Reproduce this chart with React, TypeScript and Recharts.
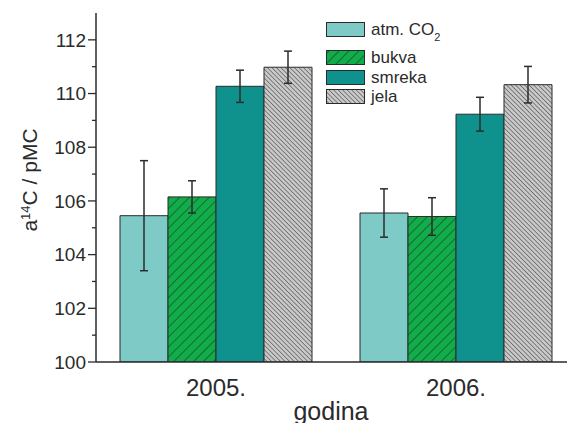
import React from 'react';
import { BarChart, Bar, XAxis, YAxis, ErrorBar } from 'recharts';

const years = ['2005.', '2006.'];
const atmCO2 = [105.45, 105.55];
const atmCO2Err = [2.05, 0.9];
const bukva = [106.15, 105.42];
const bukvaErr = [0.6, 0.7];
const smreka = [110.27, 109.23];
const smrekaErr = [0.6, 0.63];
const jela = [110.98, 110.33];
const jelaErr = [0.6, 0.68];
const yTicks = [100, 101, 102, 103, 104, 105, 106, 107, 108, 109, 110, 111, 112];
const xTicks = [2005, 2005.5, 2006];

const data = years.map((year, i) => ({
  year,
  atm: atmCO2[i],
  atmErr: atmCO2Err[i],
  bukva: bukva[i],
  bukvaErr: bukvaErr[i],
  smreka: smreka[i],
  smrekaErr: smrekaErr[i],
  jela: jela[i],
  jelaErr: jelaErr[i],
}));

const FONT = '"Liberation Sans", Arial, sans-serif';
const INK = '#2b2b2b';

const COLORS = {
  atm: '#7dcac7',
  bukva: '#10ad4a',
  smreka: '#0f928e',
  jela: '#c9c9c9',
};

const Patterns = ({ prefix }: { prefix: string }) => (
  <defs>
    <pattern id={`${prefix}-bukva`} width={7} height={7} patternUnits="userSpaceOnUse" patternTransform="rotate(45)">
      <rect width={7} height={7} fill={COLORS.bukva} />
      <line x1={0} y1={0} x2={0} y2={7} stroke="#1c3b22" strokeWidth={1.2} />
    </pattern>
    <pattern id={`${prefix}-jela`} width={3.2} height={3.2} patternUnits="userSpaceOnUse" patternTransform="rotate(-45)">
      <rect width={3.2} height={3.2} fill={COLORS.jela} />
      <line x1={0} y1={0} x2={0} y2={3.2} stroke="#4a4a4a" strokeWidth={1.2} />
    </pattern>
  </defs>
);

const legendItems = [
  { key: 'atm', fill: COLORS.atm, label: <>atm. CO<tspan baselineShift="sub" fontSize={11}>2</tspan></>, top: 22 },
  { key: 'bukva', fill: 'url(#lg-bukva)', label: 'bukva', top: 50 },
  { key: 'smreka', fill: COLORS.smreka, label: 'smreka', top: 70 },
  { key: 'jela', fill: 'url(#lg-jela)', label: 'jela', top: 89 },
];

const LegendBox = () => (
  <svg width={150} height={120} style={{ position: 'absolute', left: 320, top: 0 }}>
    <Patterns prefix="lg" />
    {legendItems.map((it) => (
      <g key={it.key}>
        <rect x={6.5} y={it.top + 0.5} width={38} height={14} fill={it.fill} stroke={INK} strokeWidth={1} />
        <text x={51} y={it.top + 13} fontFamily={FONT} fontSize={17} fill={INK}>
          {it.label}
        </text>
      </g>
    ))}
  </svg>
);

const YTick = (props: any) => {
  const { x, y, payload } = props;
  const major = payload.value % 2 === 0;
  return (
    <g>
      <line x1={x} x2={x - (major ? 8 : 4)} y1={y} y2={y} stroke={INK} strokeWidth={1.3} />
      {major && (
        <text x={x - 10} y={y} dy="0.36em" textAnchor="end" fontFamily={FONT} fontSize={19} fill={INK}>
          {payload.value}
        </text>
      )}
    </g>
  );
};

const XLabelTick = (props: any) => {
  const { x, y, payload } = props;
  return (
    <text x={x} y={y + 34} textAnchor="middle" fontFamily={FONT} fontSize={24} fill={INK}>
      {payload.value}
    </text>
  );
};

const BottomTick = (props: any) => {
  const { x, y, payload } = props;
  const major = Number.isInteger(payload.value);
  return <line x1={x} x2={x} y1={y} y2={y + (major ? 8 : 5)} stroke={INK} strokeWidth={1.3} />;
};

const TopTick = (props: any) => {
  const { x, y, payload } = props;
  const major = Number.isInteger(payload.value);
  return <line x1={x} x2={x} y1={y} y2={y + (major ? 8 : 7)} stroke={INK} strokeWidth={1.3} />;
};

export default function App() {
  return (
    <div style={{ position: 'fixed', left: 0, top: 0, width: 567, height: 423, overflow: 'hidden', background: '#fff' }}>
      <BarChart
        width={585}
        height={423}
        data={data}
        margin={{ top: 13, right: 9, bottom: 0, left: 0 }}
        barCategoryGap="10%"
        barGap={0}
      >
        <Patterns prefix="ch" />
        <XAxis
          xAxisId="ticks"
          type="number"
          domain={[2004.5, 2006.5]}
          ticks={xTicks}
          height={0}
          tickSize={0}
          tickMargin={0}
          tickLine={false}
          axisLine={false}
          tick={BottomTick}
        />
        <XAxis
          dataKey="year"
          height={61}
          tickSize={0}
          tickMargin={0}
          tickLine={false}
          axisLine={{ stroke: INK, strokeWidth: 1.5 }}
          tick={XLabelTick}
          label={() => (
            <text x={331} y={420} textAnchor="middle" fontFamily={FONT} fontSize={25} fill={INK}>
              godina
            </text>
          )}
        />
        <XAxis
          xAxisId="top"
          orientation="top"
          type="number"
          domain={[2004.5, 2006.5]}
          ticks={xTicks}
          height={0}
          tickSize={0}
          tickMargin={0}
          tickLine={false}
          axisLine={{ stroke: INK, strokeWidth: 1.5 }}
          tick={TopTick}
        />
        <YAxis
          width={96}
          domain={[100, 113]}
          ticks={yTicks}
          interval={0}
          allowDataOverflow
          tickSize={0}
          tickMargin={0}
          tickLine={false}
          axisLine={{ stroke: INK, strokeWidth: 1.5 }}
          tick={YTick}
          label={() => (
            <text x={37} y={180} transform="rotate(-90 37 180)" textAnchor="middle" fontFamily={FONT} fontSize={21} fill={INK}>
              a<tspan baselineShift="super" fontSize={13}>14</tspan>C / pMC
            </text>
          )}
        />
        <Bar dataKey="atm" fill={COLORS.atm} stroke={INK} strokeWidth={1} isAnimationActive={false}>
          <ErrorBar dataKey="atmErr" width={4} stroke={INK} strokeWidth={1.5} />
        </Bar>
        <Bar dataKey="bukva" fill="url(#ch-bukva)" stroke={INK} strokeWidth={1} isAnimationActive={false}>
          <ErrorBar dataKey="bukvaErr" width={4} stroke={INK} strokeWidth={1.5} />
        </Bar>
        <Bar dataKey="smreka" fill={COLORS.smreka} stroke={INK} strokeWidth={1} isAnimationActive={false}>
          <ErrorBar dataKey="smrekaErr" width={4} stroke={INK} strokeWidth={1.5} />
        </Bar>
        <Bar dataKey="jela" fill="url(#ch-jela)" stroke={INK} strokeWidth={1} isAnimationActive={false}>
          <ErrorBar dataKey="jelaErr" width={4} stroke={INK} strokeWidth={1.5} />
        </Bar>
      </BarChart>
      <LegendBox />
    </div>
  );
}
